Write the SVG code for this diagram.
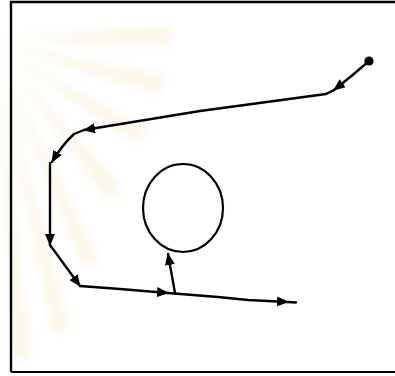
<svg xmlns="http://www.w3.org/2000/svg" width="395" height="376" viewBox="0 0 395 376">
<style>
.ln{fill:none;stroke:#000;stroke-width:2.4;stroke-linecap:round;stroke-linejoin:round}
.wm{fill:#f3e6c0}
</style>
<defs>
<marker id="ah" viewBox="0 0 12 10" refX="11" refY="5" markerWidth="12" markerHeight="10" markerUnits="userSpaceOnUse" orient="auto">
<path d="M0,0 L12,5 L0,10 Z" fill="#000"/>
</marker>
<filter id="soft" x="-20%" y="-20%" width="140%" height="140%">
<feGaussianBlur stdDeviation="5"/>
</filter>
</defs>
<rect width="395" height="376" fill="#fff"/>
<g id="watermark" filter="url(#soft)" opacity="0.35">
<path class="wm" d="M0,40 L170,25 L170,45 Z"/>
<path class="wm" d="M0,45 L165,75 L160,95 Z"/>
<path class="wm" d="M0,50 L150,130 L138,145 Z"/>
<path class="wm" d="M0,55 L125,190 L108,200 Z"/>
<path class="wm" d="M0,60 L100,260 L82,266 Z"/>
<path class="wm" d="M0,65 L70,330 L52,332 Z"/>
<path class="wm" d="M0,70 L30,360 L12,360 Z"/>
</g>
<g id="frame">
<path d="M11,372 L11,2 L395,2" fill="none" stroke="#000" stroke-width="2.4"/>
<path d="M11,372 L395,372" fill="none" stroke="#000" stroke-width="1.8"/>
</g>
<g id="start">
<circle cx="369" cy="61" r="4.6" fill="#000"/>
</g>
<g id="obstacle">
<ellipse cx="183" cy="208" rx="40" ry="44" fill="none" stroke="#000" stroke-width="2.2"/>
</g>
<g id="connectors">
<path class="ln" d="M369,61 Q352,76 334,90" marker-end="url(#ah)"/>
<path class="ln" d="M334,90 L326,94 L200,111 L84,130" marker-end="url(#ah)"/>
<path class="ln" d="M84,130 L74,134 Q62,145 52,162" marker-end="url(#ah)"/>
<path class="ln" d="M50,163 L50,245" marker-end="url(#ah)"/>
<path class="ln" d="M50,245 L80,286" marker-end="url(#ah)"/>
<path class="ln" d="M80,286 L120,289 L168,293" marker-end="url(#ah)"/>
<path class="ln" d="M168,293 L218,297 L248,300 L288,302" marker-end="url(#ah)"/>
<path class="ln" d="M288,302 L296,302.5"/>
<path class="ln" d="M175,293 L168,254" marker-end="url(#ah)"/>
</g>
</svg>
